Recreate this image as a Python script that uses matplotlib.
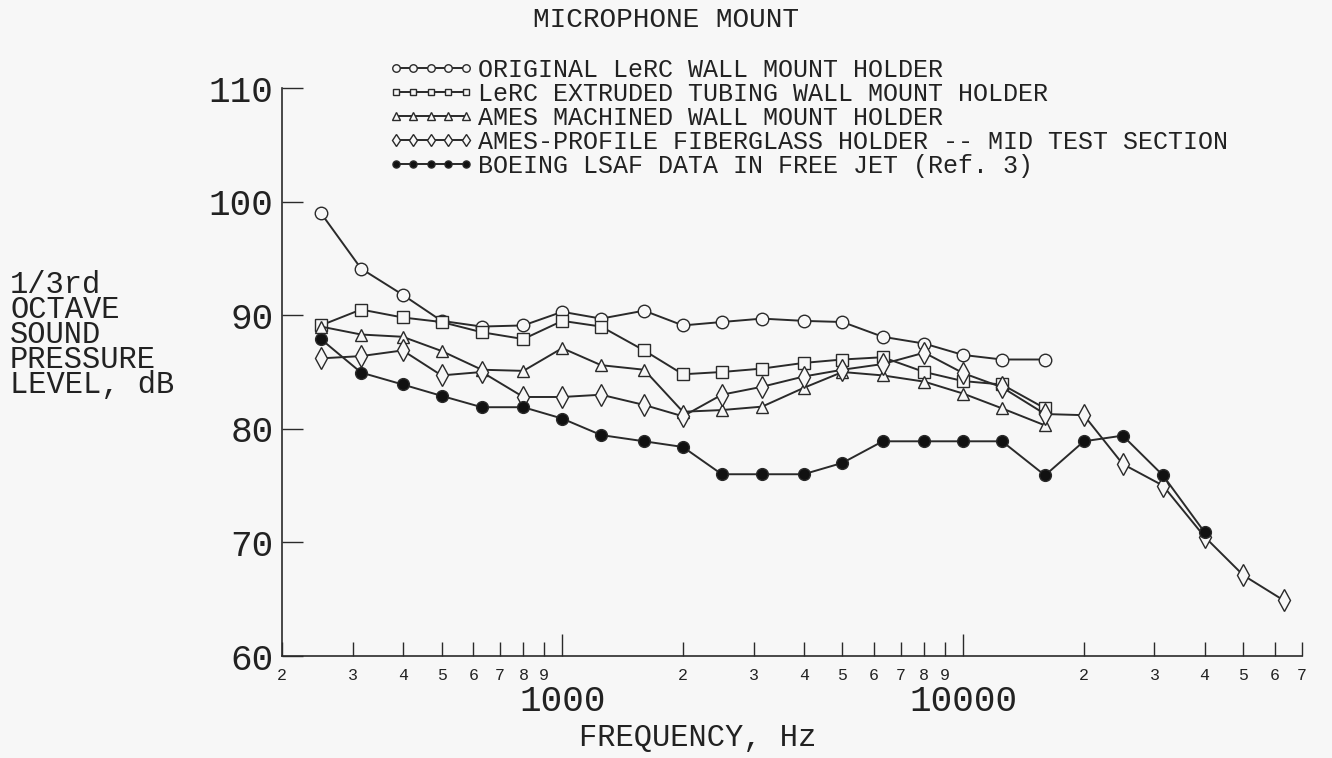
import numpy as np
import matplotlib
matplotlib.use("Agg")
import matplotlib.pyplot as plt
from matplotlib.ticker import FixedLocator, FuncFormatter

plt.rcParams['font.family'] = ['Liberation Mono', 'DejaVu Sans Mono']

# -------- data (1/3 octave band centres, dB) --------
freq = [250, 315, 400, 500, 630, 800, 1000, 1250, 1600, 2000, 2500, 3150, 4000,
        5000, 6300, 8000, 10000, 12500, 16000, 20000, 25000, 31500, 40000, 50000, 63000]

lerc_original = [99.0, 94.1, 91.8, 89.5, 89.0, 89.1, 90.3, 89.7, 90.4, 89.1, 89.4, 89.7,
                 89.5, 89.4, 88.1, 87.5, 86.5, 86.1, 86.1]
lerc_extruded = [89.1, 90.5, 89.8, 89.4, 88.5, 87.9, 89.5, 89.0, 86.9, 84.8, 85.0, 85.3,
                 85.8, 86.1, 86.3, 85.0, 84.2, 83.9, 81.8]
ames_machined = [89.0, 88.3, 88.1, 86.85, 85.2, 85.1, 87.1, 85.6, 85.2, 81.5, 81.65, 81.95,
                 83.6, 85.0, 84.7, 84.15, 83.1, 81.8, 80.3]
ames_profile = [86.2, 86.4, 86.9, 84.7, 85.0, 82.8, 82.8, 83.0, 82.1, 81.1, 83.0, 83.7,
                84.6, 85.2, 85.7, 86.7, 84.9, 83.65, 81.3, 81.2, 76.9, 75.0, 70.5, 67.1, 64.9]
boeing_lsaf = [87.9, 84.95, 83.9, 82.9, 81.9, 81.9, 80.9, 79.45, 78.9, 78.4, 76.0, 76.0,
               76.0, 77.0, 78.9, 78.9, 78.9, 78.9, 75.9, 78.9, 79.4, 75.9, 70.9]

labels = ["ORIGINAL LeRC WALL MOUNT HOLDER",
          "LeRC EXTRUDED TUBING WALL MOUNT HOLDER",
          "AMES MACHINED WALL MOUNT HOLDER",
          "AMES-PROFILE FIBERGLASS HOLDER -- MID TEST SECTION",
          "BOEING LSAF DATA IN FREE JET (Ref. 3)"]

y_ticks = [60, 70, 80, 90, 100, 110]
minor_x = [200, 300, 400, 500, 600, 700, 800, 900,
           2000, 3000, 4000, 5000, 6000, 7000, 8000, 9000,
           20000, 30000, 40000, 50000, 60000, 70000]
major_x = [1000, 10000]

bg = "#f7f7f7"
ink = "#2a2a2a"
txt = "#222222"

fig = plt.figure(figsize=(13.32, 7.58), dpi=100, facecolor=bg)
ax = fig.add_axes([282 / 1332, 1 - 656 / 758, 1020 / 1332, 568 / 758], facecolor=bg)

series = [
    (lerc_original, dict(marker="o", ms=9, mfc=bg)),
    (lerc_extruded, dict(marker="s", ms=8, mfc=bg)),
    (ames_machined, dict(marker="^", ms=9, mfc=bg)),
    (ames_profile, dict(marker="d", ms=11, mfc=bg)),
    (boeing_lsaf, dict(marker="o", ms=8.5, mfc="#111111")),
]
for (vals, style), lab in zip(series, labels):
    ax.plot(freq[:len(vals)], vals, color=ink, lw=1.4, mec=ink, mew=1.0,
            label=lab, **style)

ax.set_xscale("log")
ax.set_xlim(200, 70000)
ax.set_ylim(60, 110)

for side in ("top", "right"):
    ax.spines[side].set_visible(False)
for side in ("left", "bottom"):
    ax.spines[side].set_color(ink)
    ax.spines[side].set_linewidth(1.2)

ax.set_yticks(y_ticks)
ax.tick_params(axis="y", direction="in", length=15, width=1, color=ink,
               labelsize=26, labelcolor=txt, pad=6)

ax.xaxis.set_major_locator(FixedLocator(major_x))
ax.xaxis.set_minor_locator(FixedLocator(minor_x))
ax.xaxis.set_major_formatter(FuncFormatter(lambda v, p: f"{int(round(v))}"))
ax.xaxis.set_minor_formatter(
    FuncFormatter(lambda v, p: f"{int(round(v / 10 ** np.floor(np.log10(v))))}"))
ax.tick_params(axis="x", which="major", direction="in", length=16, width=1, color=ink,
               labelsize=26, labelcolor=txt, pad=20)
ax.tick_params(axis="x", which="minor", direction="in", length=10, width=1, color=ink,
               labelsize=12, labelcolor=txt, pad=9)

leg = ax.legend(loc="upper left", bbox_to_anchor=(388 / 1332, 1 - 58 / 758),
                bbox_transform=fig.transFigure, frameon=False, fontsize=18,
                numpoints=5, markerscale=0.6, handlelength=3.4, handletextpad=0.2,
                labelspacing=0.0, borderpad=0, borderaxespad=0)
for t in leg.get_texts():
    t.set_color(txt)

fig.text(666 / 1332, 1 - 20 / 758, "MICROPHONE MOUNT", ha="center", va="center",
         fontsize=20, color=txt)
fig.text(698 / 1332, 1 - 738 / 758, "FREQUENCY, Hz", ha="center", va="center",
         fontsize=22, color=txt)
fig.text(10 / 1332, 1 - 270 / 758, "1/3rd\nOCTAVE\nSOUND\nPRESSURE\nLEVEL, dB",
         ha="left", va="top", fontsize=22, linespacing=0.78, color=txt)

fig.savefig("out.png", dpi=100, facecolor=bg)
